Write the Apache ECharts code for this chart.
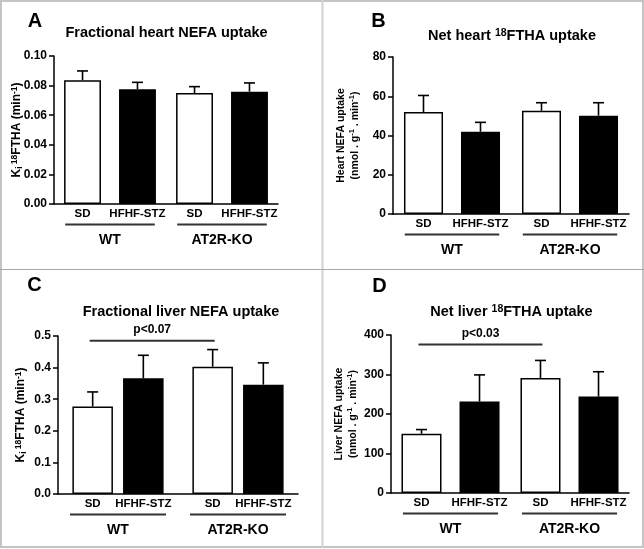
<!DOCTYPE html>
<html>
<head>
<meta charset="utf-8">
<script src="https://cdn.jsdelivr.net/npm/echarts@6/dist/echarts.min.js"></script>
<style>
html,body{margin:0;padding:0;background:#fff;}
#chart{width:644px;height:549px;}
</style>
</head>
<body>
<div id="chart"></div>
<script>
// ---------- data ----------
const groups = ['WT', 'AT2R-KO'];
const diets = ['SD', 'HFHF-STZ'];

// Panel A: fractional heart NEFA uptake (Ki, min-1)
const aSD = [0.0836, 0.0750];
const aSDerr = [0.0063, 0.0043];
const aHF = [0.0775, 0.0759];
const aHFerr = [0.0047, 0.0059];
const aTicks = [0, 0.1, 0.02];

// Panel B: net heart 18FTHA uptake (nmol.g-1.min-1)
const bSD = [52.0, 52.6];
const bSDerr = [8.4, 4.1];
const bHF = [41.9, 50.1];
const bHFerr = [4.8, 6.6];
const bTicks = [0, 80, 20];

// Panel C: fractional liver NEFA uptake
const cSD = [0.277, 0.403];
const cSDerr = [0.046, 0.054];
const cHF = [0.366, 0.346];
const cHFerr = [0.073, 0.069];
const cTicks = [0, 0.5, 0.1];
const cSig = [0.485];
const cSigLabel = 'p<0.07';

// Panel D: net liver 18FTHA uptake
const dSD = [150, 291];
const dSDerr = [10.6, 44.6];
const dHF = [231.6, 244];
const dHFerr = [67.4, 63];
const dTicks = [0, 400, 100];
const dSig = [376];
const dSigLabel = 'p<0.03';

// ---------- layout ----------
const FONT = '"Liberation Sans", Arial, Helvetica, sans-serif';
const kiName = '{b|K}{sub|i}{sup| 18}{b|FTHA (min}{sup|-1}{b|)}';
const panels = [
  {id:'A', sd:aSD, sde:aSDerr, hf:aHF, hfe:aHFerr, ticks:aTicks, dec:2,
   grid:{left:54, top:56, width:224, height:148}, catGap:0.18, barGap:0.49,
   name:kiName, nameGap:30, rich:'ki',
   title:'Fractional heart NEFA uptake', tx:166.5, ty:33, lx:35, ly:21.5},
  {id:'B', sd:bSD, sde:bSDerr, hf:bHF, hfe:bHFerr, ticks:bTicks, dec:0,
   grid:{left:393, top:57, width:236, height:157}, catGap:0.186, barGap:0.46,
   name:'{b|Heart NEFA uptake}\n{b|(nmol . g}{sup|-1}{b| . min}{sup|-1}{b|)}', nameGap:31, rich:'net',
   title:'{t|Net heart }{ts|18}{t|FTHA uptake}', tx:512, ty:36, lx:378.5, ly:21.5},
  {id:'C', sd:cSD, sde:cSDerr, hf:cHF, hfe:cHFerr, ticks:cTicks, dec:1,
   grid:{left:58, top:336, width:240, height:158}, catGap:0.24, barGap:0.25,
   name:kiName, nameGap:30, rich:'ki',
   title:'Fractional liver NEFA uptake', tx:181, ty:311.5, lx:34.5, ly:285,
   sig:cSig, sigLabel:cSigLabel},
  {id:'D', sd:dSD, sde:dSDerr, hf:dHF, hfe:dHFerr, ticks:dTicks, dec:0,
   grid:{left:391, top:335, width:238, height:158}, catGap:0.176, barGap:0.45,
   name:'{b|Liver NEFA uptake}\n{b|(nmol . g}{sup|-1}{b| . min}{sup|-1}{b|)}', nameGap:31, rich:'net',
   title:'{t|Net liver }{ts|18}{t|FTHA uptake}', tx:511.5, ty:312, lx:379.5, ly:286.5,
   sig:dSig, sigLabel:dSigLabel}
];

function mkRich(fs, sfs, lh) {
  return {
    b:{fontSize:fs, fontWeight:'bold', fontFamily:FONT, color:'#000', lineHeight:lh},
    sup:{fontSize:sfs, fontWeight:'bold', fontFamily:FONT, color:'#000', verticalAlign:'top', lineHeight:lh, padding:[0,0,Math.round(fs*0.45),0]},
    sub:{fontSize:sfs, fontWeight:'bold', fontFamily:FONT, color:'#000', verticalAlign:'bottom', lineHeight:lh, padding:[Math.round(fs*0.35),0,0,0]}
  };
}
const richSets = {ki:mkRich(12, 8.5, 14), net:mkRich(10.5, 7.5, 14)};
const titleRich = {
  t:{fontSize:14.5, fontWeight:'bold', fontFamily:FONT, color:'#000', lineHeight:16},
  ts:{fontSize:10.5, fontWeight:'bold', fontFamily:FONT, color:'#000', verticalAlign:'top', lineHeight:16, padding:[0,0,7,0]}
};

function barX(api, cat, k, catGap, barGap) {
  const band = api.size([1, 0])[0];
  const c = api.coord([cat, 0])[0];
  const rem = band * (1 - catGap);
  const bw = rem / (2 + barGap);
  return c - rem / 2 + k * bw * (1 + barGap) + bw / 2;
}

const grids = [], xAxes = [], yAxes = [], series = [], graphics = [];
const axisLine = {show:true, lineStyle:{color:'#000', width:1.5}};

panels.forEach((p, i) => {
  grids.push(Object.assign({containLabel:false}, p.grid));
  xAxes.push({
    type:'category', gridIndex:i, data:groups,
    axisLine:axisLine, axisTick:{show:false},
    axisLabel:{fontSize:14, fontWeight:'bold', fontFamily:FONT, color:'#000', margin:29}
  });
  yAxes.push({
    type:'value', gridIndex:i, min:p.ticks[0], max:p.ticks[1], interval:p.ticks[2],
    axisLine:axisLine, axisTick:{show:true, length:5, lineStyle:{color:'#000', width:1.5}},
    splitLine:{show:false},
    axisLabel:{fontSize:12, fontWeight:'bold', fontFamily:FONT, color:'#000', margin:7,
      formatter:(v) => v.toFixed(p.dec)},
    name:p.name, nameLocation:'middle', nameGap:p.nameGap, nameRotate:90,
    nameMoveOverlap:false,
    nameTextStyle:{rich:richSets[p.rich], align:'center'}
  });
  const lbl = (txt) => ({show:true, position:'bottom', distance:4, formatter:txt,
    fontSize:11.5, fontWeight:'bold', fontFamily:FONT, color:'#000'});
  series.push({
    type:'bar', name:diets[0], xAxisIndex:i, yAxisIndex:i, data:p.sd,
    barCategoryGap:(p.catGap*100)+'%', barGap:(p.barGap*100)+'%',
    itemStyle:{color:'#fff', borderColor:'#000', borderWidth:1.5},
    label:lbl(diets[0]), silent:true, animation:false
  });
  series.push({
    type:'bar', name:diets[1], xAxisIndex:i, yAxisIndex:i, data:p.hf,
    barCategoryGap:(p.catGap*100)+'%', barGap:(p.barGap*100)+'%',
    itemStyle:{color:'#000', borderColor:'#000', borderWidth:1.5},
    label:lbl(diets[1]), silent:true, animation:false
  });
  // error bars (upper only)
  const errData = [];
  [p.sd, p.hf].forEach((arr, k) => {
    const e = k === 0 ? p.sde : p.hfe;
    arr.forEach((m, cat) => errData.push([cat, k, m, e[cat]]));
  });
  series.push({
    type:'custom', xAxisIndex:i, yAxisIndex:i, data:errData, z:5, silent:true, animation:false,
    encode:{x:0, y:2},
    renderItem:(params, api) => {
      const cat = api.value(0), k = api.value(1), m = api.value(2), e = api.value(3);
      const x = barX(api, cat, k, p.catGap, p.barGap);
      const y0 = api.coord([cat, m])[1], y1 = api.coord([cat, m + e])[1];
      const st = {stroke:'#000', lineWidth:1.6};
      return {type:'group', children:[
        {type:'line', shape:{x1:x, y1:y0, x2:x, y2:y1}, style:st},
        {type:'line', shape:{x1:x - 5.5, y1:y1, x2:x + 5.5, y2:y1}, style:st}
      ]};
    }
  });
  // group underline
  series.push({
    type:'custom', xAxisIndex:i, yAxisIndex:i, data:groups.map((g, c) => [c, 0]), z:5,
    silent:true, animation:false, encode:{x:0, y:1},
    renderItem:(params, api) => {
      const c = api.coord([api.value(0), 0]);
      const band = api.size([1, 0])[0];
      return {type:'line', shape:{x1:c[0] - 0.4*band, y1:c[1] + 20.5, x2:c[0] + 0.4*band, y2:c[1] + 20.5},
        style:{stroke:'#333', lineWidth:2}};
    }
  });
  // significance bracket
  if (p.sig) {
    series.push({
      type:'custom', xAxisIndex:i, yAxisIndex:i, data:[[0, p.sig[0]]], z:5,
      silent:true, animation:false, encode:{x:0, y:1},
      renderItem:(params, api) => {
        const y = api.coord([0, api.value(1)])[1];
        const x1 = barX(api, 0, 0, p.catGap, p.barGap) - 3;
        const x2 = barX(api, 1, 0, p.catGap, p.barGap) + 2;
        return {type:'group', children:[
          {type:'line', shape:{x1:x1, y1:y, x2:x2, y2:y}, style:{stroke:'#333', lineWidth:2}},
          {type:'text', x:(x1 + x2)/2, y:y - 5, style:{text:p.sigLabel, align:'center', verticalAlign:'bottom',
            textAlign:'center', textVerticalAlign:'bottom',
            font:'bold 12px ' + FONT, fill:'#000'}}
        ]};
      }
    });
  }
  graphics.push({type:'text', x:p.tx, y:p.ty, style:{text:p.title, rich:titleRich,
    align:'center', verticalAlign:'middle', textAlign:'center', textVerticalAlign:'middle',
    font:'bold 14.5px ' + FONT, fill:'#000'}});
  graphics.push({type:'text', x:p.lx, y:p.ly, style:{text:p.id,
    align:'center', verticalAlign:'middle', textAlign:'center', textVerticalAlign:'middle',
    font:'bold 20px ' + FONT, fill:'#000'}});
});

// frame and dividers
graphics.push({type:'rect', shape:{x:1, y:1, width:642, height:546}, style:{fill:null, stroke:'#c4c4c4', lineWidth:2}, z:-1});
graphics.push({type:'line', shape:{x1:322.5, y1:0, x2:322.5, y2:548}, style:{stroke:'#d2d2d2', lineWidth:2}, z:-1});
graphics.push({type:'line', shape:{x1:0, y1:269.5, x2:644, y2:269.5}, style:{stroke:'#a8a8a8', lineWidth:1.2}, z:-1});

const chart = echarts.init(document.getElementById('chart'), null, {renderer:'canvas'});
chart.setOption({
  animation:false,
  backgroundColor:'#fff',
  grid:grids, xAxis:xAxes, yAxis:yAxes, series:series, graphic:graphics
});
</script>
</body>
</html>
